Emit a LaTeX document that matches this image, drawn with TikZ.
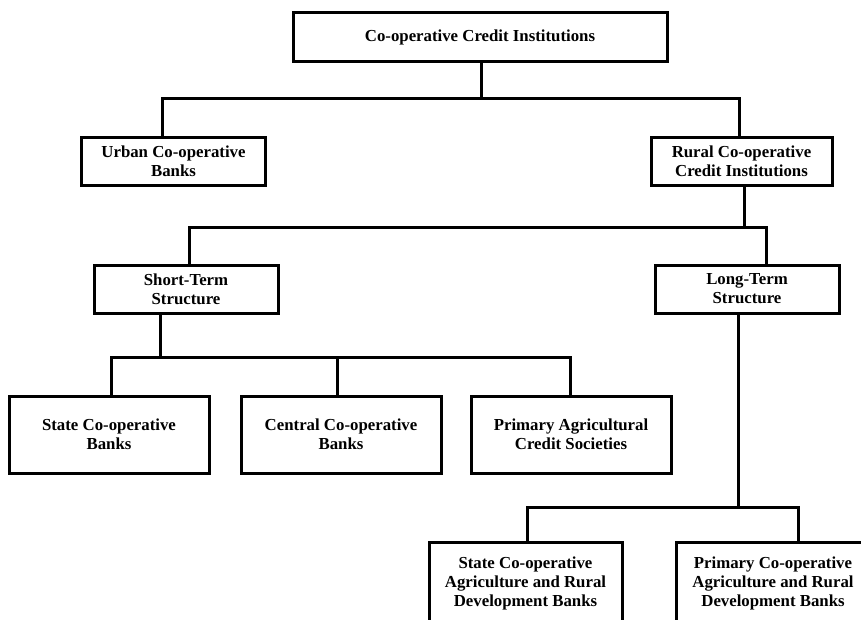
\documentclass[tikz,border=0pt]{standalone}
\usepackage{fontspec}
\setmainfont{Liberation Serif}

\begin{document}
\begin{tikzpicture}[
    x=1pt, y=-1pt,
    font=\fontsize{16.8}{19}\selectfont\bfseries,
    box/.style    = {draw, line width=3pt, align=center, inner sep=2pt,
                     minimum width=184, minimum height=48},
    lowbox/.style = {box, minimum width=200, minimum height=77},
    ln/.style     = {line width=3pt},
]
\useasboundingbox (0,0) rectangle (861,619);
\clip (0,0) rectangle (861,619);

% ---------------- top ----------------
\node[box, minimum width=374, minimum height=49] (cci) at (480,37)
    {Co-operative Credit Institutions};

% ---------------- urban / rural ----------------
\node[box] (ucb) at (173.5,161.5) {Urban Co-operative\\Banks};
\node[box, minimum width=181] (rcci) at (741.5,161.5)
    {Rural Co-operative\\Credit Institutions};

\coordinate (j1) at (481,98);
\draw[ln] (cci.south -| j1) -- (j1);
\draw[ln] ([xshift=-11.5]ucb.north) |- (j1) -| ([xshift=-2.5]rcci.north);

% ---------------- short / long term ----------------
\node[box] (sts) at (186,289.5) {Short-Term\\Structure};
\node[box] (lts) at (747,289) {Long-Term\\Structure};

\coordinate (j2) at (744,227);
\draw[ln] ([xshift=2.5]rcci.south) -- (j2);
\draw[ln] ([xshift=3]sts.north) |- (j2) -| ([xshift=19]lts.north);

% ---------------- short-term banks ----------------
\node[lowbox] (scb) at (109,434.5) {State Co-operative\\Banks};
\node[lowbox] (ccb) at (341,434.5) {Central Co-operative\\Banks};
\node[lowbox] (pacs) at (571,434.5) {Primary Agricultural\\Credit Societies};

\coordinate (j3) at (160,357);
\draw[ln] ([xshift=-26]sts.south) -- (j3);
\draw[ln] ([xshift=2]scb.north) |- (j3) -| ([xshift=-1]pacs.north);
\draw[ln] ([xshift=-4]ccb.north) -- ([xshift=-4]ccb.north |- j3);

% ---------------- long-term banks ----------------
\node[box, minimum width=193, minimum height=82] (scardb) at (525.5,583)
    {State Co-operative\\Agriculture and Rural\\Development Banks};
\node[box, minimum width=194, minimum height=82] (pcardb) at (773,583)
    {Primary Co-operative\\Agriculture and Rural\\Development Banks};

\coordinate (j4) at (738,507);
\draw[ln] ([xshift=-9]lts.south) -- (j4);
\draw[ln] ([xshift=1.5]scardb.north) |- (j4) -| ([xshift=25]pcardb.north);

\end{tikzpicture}
\end{document}
